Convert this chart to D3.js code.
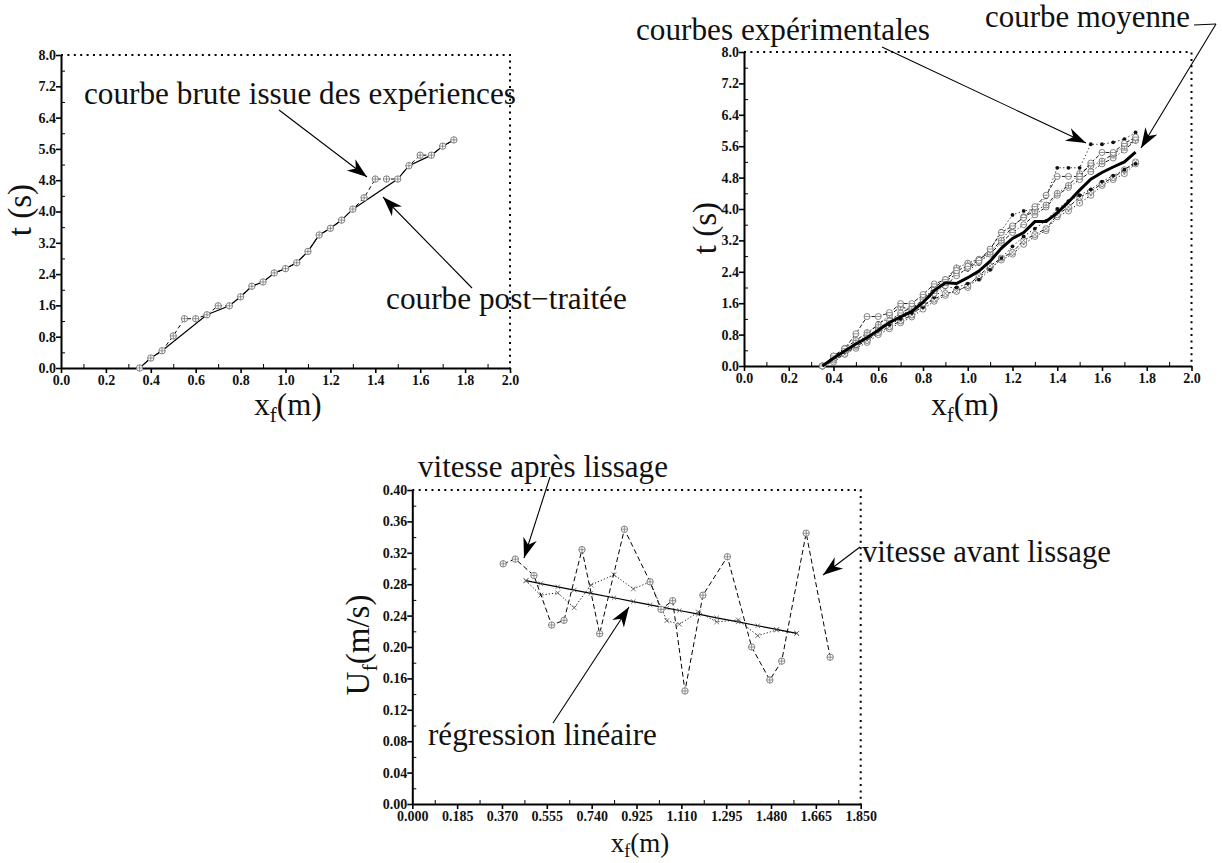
<!DOCTYPE html>
<html>
<head>
<meta charset="utf-8">
<script src="https://cdn.jsdelivr.net/npm/d3@7/dist/d3.min.js"></script>
<style>
  html, body { margin: 0; padding: 0; background: #fff; }
  svg { display: block; }
</style>
</head>
<body>
<script>
// ---------- data ----------
// front position grid (m) shared by the t(x) curves
const xGrid = [0.35, 0.40, 0.45, 0.50, 0.55, 0.60, 0.65, 0.70, 0.75, 0.80,
               0.85, 0.90, 0.95, 1.00, 1.05, 1.10, 1.15, 1.20, 1.25, 1.30,
               1.35, 1.40, 1.45, 1.50, 1.55, 1.60, 1.65, 1.70, 1.75];

// raw arrival time of the front (s)
const tRaw = [0, 0.255, 0.44, 0.82, 1.26, 1.26, 1.36, 1.59, 1.59, 1.82,
              2.09, 2.20, 2.43, 2.54, 2.69, 2.98, 3.40, 3.57, 3.78, 4.06,
              4.35, 4.83, 4.83, 4.83, 5.17, 5.44, 5.44, 5.67, 5.83];

// post-processed curve (plateaus removed)
const xPost = [0.35, 0.40, 0.45, 0.65, 0.75, 0.80, 0.85, 0.90, 0.95, 1.00, 1.05,
               1.10, 1.15, 1.20, 1.25, 1.30, 1.50, 1.55, 1.65, 1.70, 1.75];
const tPost = [0, 0.255, 0.44, 1.36, 1.59, 1.82, 2.09, 2.20, 2.43, 2.54, 2.69,
               2.98, 3.40, 3.57, 3.78, 4.06, 4.83, 5.17, 5.44, 5.67, 5.83];

// repeated experiments
const tExp1 = [0, 0.20, 0.40, 0.60, 0.78, 1.10, 1.20, 1.30, 1.45, 1.65, 1.95, 2.15, 2.35, 2.45, 2.60,
               2.95, 3.45, 3.85, 3.95, 4.00, 4.30, 5.05, 5.05, 5.05, 5.65, 5.65, 5.70, 5.78, 5.95];
const tExp2 = tRaw;
const tExp3 = [0, 0.25, 0.45, 0.65, 0.85, 1.05, 1.30, 1.50, 1.45, 1.70, 2.00, 2.20, 2.50, 2.62, 2.72,
               2.90, 3.20, 3.55, 3.80, 3.95, 4.10, 4.40, 4.60, 4.90, 5.10, 5.22, 5.40, 5.60, 5.75];
const tExp4 = [0, 0.10, 0.30, 0.45, 0.60, 0.80, 0.95, 1.10, 1.25, 1.45, 1.65, 1.80, 1.95, 2.00, 2.25,
               2.50, 2.70, 2.85, 3.10, 3.30, 3.45, 3.80, 3.95, 4.15, 4.35, 4.60, 4.75, 4.90, 5.15];
const tExp5 = [0, 0.15, 0.30, 0.50, 0.65, 0.85, 1.00, 1.15, 1.30, 1.55, 1.70, 1.85, 1.90, 2.05, 2.30,
               2.55, 2.75, 2.90, 3.20, 3.35, 3.50, 3.85, 4.05, 4.30, 4.45, 4.65, 4.80, 5.00, 5.20];
const tExp6 = [0, 0.20, 0.35, 0.50, 0.70, 0.90, 1.05, 1.20, 1.35, 1.50, 1.75, 2.00, 2.00, 2.10, 2.20,
               2.45, 2.75, 3.05, 3.30, 3.50, 3.70, 4.00, 4.20, 4.35, 4.50, 4.70, 4.85, 5.00, 5.15];
const tExp7 = [0, 0.20, 0.40, 0.55, 0.75, 0.95, 1.15, 1.35, 1.50, 1.60, 1.85, 2.05, 2.30, 2.50, 2.65,
               2.85, 3.15, 3.40, 3.60, 3.85, 4.05, 4.35, 4.55, 4.75, 4.95, 5.15, 5.30, 5.50, 5.75];

// mean curve
const tMean = [0, 0.20, 0.38, 0.56, 0.72, 0.91, 1.11, 1.25, 1.39, 1.62,
               1.92, 2.12, 2.10, 2.25, 2.42, 2.67, 3.00, 3.25, 3.40, 3.68,
               3.68, 3.90, 4.18, 4.48, 4.76, 4.93, 5.07, 5.20, 5.45];

// front velocity before smoothing (m/s)
const xAvant = [0.375, 0.425, 0.502, 0.575, 0.626, 0.700, 0.773, 0.875, 0.981, 1.026,
                1.074, 1.125, 1.199, 1.300, 1.400, 1.475, 1.524, 1.625, 1.724];
const uAvant = [0.306, 0.312, 0.291, 0.228, 0.234, 0.324, 0.217, 0.350, 0.283, 0.248,
                0.259, 0.144, 0.266, 0.315, 0.200, 0.158, 0.182, 0.345, 0.187];

// front velocity after smoothing (m/s)
const xApres = [0.469, 0.530, 0.600, 0.668, 0.737, 0.832, 0.912, 0.981, 1.050, 1.102,
                1.180, 1.256, 1.345, 1.425, 1.503, 1.586];
const uApres = [0.2845, 0.266, 0.269, 0.250, 0.279, 0.292, 0.274, 0.283, 0.2335, 0.229,
                0.2446, 0.232, 0.2344, 0.2144, 0.2217, 0.2174];

// linear regression evaluated at the smoothed positions
const uReg = [0.2845, 0.2808, 0.2766, 0.2725, 0.2684, 0.2627, 0.2579, 0.2537, 0.2496, 0.2465,
              0.2418, 0.2372, 0.2319, 0.2271, 0.2224, 0.2174];

// axis ticks
const xTicksT = [0, 0.2, 0.4, 0.6, 0.8, 1.0, 1.2, 1.4, 1.6, 1.8, 2.0];
const yTicksT = [0, 0.8, 1.6, 2.4, 3.2, 4.0, 4.8, 5.6, 6.4, 7.2, 8.0];
const xTicksU = [0, 0.185, 0.370, 0.555, 0.740, 0.925, 1.110, 1.295, 1.480, 1.665, 1.850];
const yTicksU = [0, 0.04, 0.08, 0.12, 0.16, 0.20, 0.24, 0.28, 0.32, 0.36, 0.40];

// ---------- drawing ----------
const SERIF = "'Liberation Serif', 'DejaVu Serif', serif";
const svg = d3.select("body").append("svg").attr("width", 1222).attr("height", 863)
  .style("font-family", SERIF);

const mids = arr => d3.pairs(arr).map(([a, b]) => (a + b) / 2);

function panel(left, top, w, h, xTicks, yTicks, xFmt, yFmt) {
  const g = svg.append("g").attr("transform", `translate(${left},${top})`);
  const x = d3.scaleLinear().domain([xTicks[0], xTicks[xTicks.length - 1]]).range([0, w]);
  const y = d3.scaleLinear().domain([yTicks[0], yTicks[yTicks.length - 1]]).range([h, 0]);

  // dotted top and right borders
  g.append("path").attr("d", `M0,0H${w}V${h}`)
    .attr("fill", "none").attr("stroke", "#000").attr("stroke-width", 2)
    .attr("stroke-dasharray", "2,4.4");

  // minor ticks (inside)
  g.append("g").attr("transform", `translate(0,${h})`)
    .call(d3.axisBottom(x).tickValues(mids(xTicks)).tickFormat("").tickSizeInner(-4).tickSizeOuter(0))
    .call(s => s.select(".domain").remove());
  g.append("g")
    .call(d3.axisLeft(y).tickValues(mids(yTicks)).tickFormat("").tickSizeInner(-4).tickSizeOuter(0))
    .call(s => s.select(".domain").remove());

  // major ticks and labels
  const ax = g.append("g").attr("transform", `translate(0,${h})`)
    .call(d3.axisBottom(x).tickValues(xTicks).tickFormat(xFmt).tickSizeInner(5).tickSizeOuter(0).tickPadding(2));
  const ay = g.append("g")
    .call(d3.axisLeft(y).tickValues(yTicks).tickFormat(yFmt).tickSizeInner(5).tickSizeOuter(0).tickPadding(0));
  [ax, ay].forEach(a => {
    a.attr("font-family", null).attr("font-size", null);
    a.select(".domain").attr("stroke-width", 2);
    a.selectAll(".tick line").attr("stroke-width", 1.6);
    a.selectAll(".tick text").style("font-family", SERIF).style("font-weight", "bold")
      .style("font-size", "14px").attr("fill", "#111");
  });
  g.selectAll(".tick line").attr("stroke", "#000");
  return { g, x, y };
}

function marker(sel, type, r) {
  const grey = "#777";
  if (type === "dot") {
    sel.append("circle").attr("r", 1.9).attr("fill", "#111");
    return;
  }
  sel.append("circle").attr("r", r).attr("fill", "#fff").attr("stroke", grey).attr("stroke-width", 0.9);
  if (type === "oplus" || type === "ominus")
    sel.append("path").attr("d", `M${-r},0H${r}`).attr("stroke", grey).attr("stroke-width", 0.8);
  if (type === "oplus")
    sel.append("path").attr("d", `M0,${-r}V${r}`).attr("stroke", grey).attr("stroke-width", 0.8);
  if (type === "otimes")
    sel.append("path").attr("d", `M${-r * 0.7},${-r * 0.7}L${r * 0.7},${r * 0.7}M${-r * 0.7},${r * 0.7}L${r * 0.7},${-r * 0.7}`)
      .attr("stroke", grey).attr("stroke-width", 0.8);
  if (type === "odot")
    sel.append("circle").attr("r", 1).attr("fill", grey);
}

function cross(sel, s) {
  sel.append("path").attr("d", `M${-s},${-s}L${s},${s}M${-s},${s}L${s},${-s}`)
    .attr("stroke", "#555").attr("stroke-width", 0.8);
}

function series(p, xs, ys, dash, width, mType, r) {
  const line = d3.line().x((d, i) => p.x(xs[i])).y(d => p.y(d));
  p.g.append("path").datum(ys).attr("d", line)
    .attr("fill", "none").attr("stroke", "#000").attr("stroke-width", width)
    .attr("stroke-dasharray", dash);
  if (mType) {
    p.g.append("g").selectAll("g").data(ys).join("g")
      .attr("transform", (d, i) => `translate(${p.x(xs[i])},${p.y(d)})`)
      .each(function () {
        if (mType === "x") cross(d3.select(this), r);
        else marker(d3.select(this), mType, r);
      });
  }
}

function arrow(x1, y1, x2, y2) {
  svg.append("line").attr("x1", x1).attr("y1", y1).attr("x2", x2).attr("y2", y2)
    .attr("stroke", "#000").attr("stroke-width", 1.1);
  const a = Math.atan2(y2 - y1, x2 - x1) * 180 / Math.PI;
  svg.append("path").attr("d", "M0,0L-20,-7L-14,0L-20,7Z")
    .attr("transform", `translate(${x2},${y2}) rotate(${a})`).attr("fill", "#000");
}

// annotation whose font size is set so that it spans the given width
function label(x, y, txt, width, anchor) {
  const t = svg.append("text").attr("x", x).attr("y", y).attr("font-size", 28)
    .attr("text-anchor", anchor || "start").attr("fill", "#111").text(txt);
  const len = t.node().getComputedTextLength();
  t.attr("font-size", 28 * width / len);
  return t;
}

function xTitle(cx, y, size, subSize, shift) {
  const t = svg.append("text").attr("x", cx).attr("y", y).attr("font-size", size)
    .attr("text-anchor", "middle").attr("fill", "#111");
  t.append("tspan").text("x");
  t.append("tspan").attr("font-size", subSize).attr("dy", shift).text("f");
  t.append("tspan").attr("dy", -shift).text("(m)");
}

function yTitle(cx, cy, main, sub, rest) {
  const t = svg.append("text").attr("transform", `translate(${cx},${cy}) rotate(-90)`)
    .attr("font-size", 33).attr("text-anchor", "middle").attr("fill", "#111");
  t.append("tspan").text(main);
  if (sub) {
    t.append("tspan").attr("font-size", 22).attr("dy", 8).text(sub);
    t.append("tspan").attr("dy", -8).text(rest);
  }
}

const f1 = d3.format(".1f"), f2 = d3.format(".2f"), f3 = d3.format(".3f");

// panel 1 : raw vs post-processed
const p1 = panel(61, 55, 449, 313, xTicksT, yTicksT, f1, f1);
series(p1, xPost, tPost, null, 1.2, null);
series(p1, xGrid, tRaw, "4,3", 1, "oplus", 3.2);
xTitle(288, 415, 31, 21, 7);
yTitle(31, 210, "t (s)");
label(84, 104, "courbe brute issue des expériences", 432);
label(386, 309, "courbe post\u2212traitée", 241);
arrow(279, 110, 367, 177);
arrow(472, 288, 383, 197);

// panel 2 : all experiments and their mean
const p2 = panel(744, 52, 447.5, 314, xTicksT, yTicksT, f1, f1);
series(p2, xGrid, tExp1, "1.2,2.5", 0.9, "dot");
series(p2, xGrid, tExp4, "1.2,2", 0.9, "odot", 3);
series(p2, xGrid, tExp5, "4,2", 0.9, "otimes", 3);
series(p2, xGrid, tExp6, "1.2,2.5", 0.9, "dot");
series(p2, xGrid, tExp7, "4,2,1,2", 0.9, "ominus", 3);
series(p2, xGrid, tExp3, "4,2,1,2", 0.9, "oplus", 3);
series(p2, xGrid, tExp2, "4,2", 0.9, "ominus", 3);
series(p2, xGrid, tMean, null, 3, null);
xTitle(965, 415, 31, 21, 7);
yTitle(716, 228, "t (s)");
label(636, 40, "courbes expérimentales", 294);
label(1190, 27, "courbe moyenne", 205, "end");
svg.append("path").attr("d", "M1194,25L1216,24").attr("stroke", "#000").attr("stroke-width", 1.1);
arrow(882, 47, 1086, 143);
arrow(1216, 24, 1141, 148);

// panel 3 : front velocity
const p3 = panel(412.3, 490, 448.4, 314, xTicksU, yTicksU, f3, f2);
series(p3, xApres, uReg, null, 1.2, "x", 2.2);
series(p3, xApres, uApres, "1.2,2", 0.9, "x", 2.4);
series(p3, xAvant, uAvant, "5,3", 1, "oplus", 3.2);
xTitle(640, 852, 27, 18, 5);
yTitle(369, 645, "U", "f", "(m/s)");
label(418, 477, "vitesse après lissage", 250);
label(428, 745, "régression linéaire", 229);
label(862, 562, "vitesse avant lissage", 249);
arrow(550, 477, 524, 558);
arrow(553, 723, 629, 607);
arrow(860, 547, 823, 575);
</script>
</body>
</html>
